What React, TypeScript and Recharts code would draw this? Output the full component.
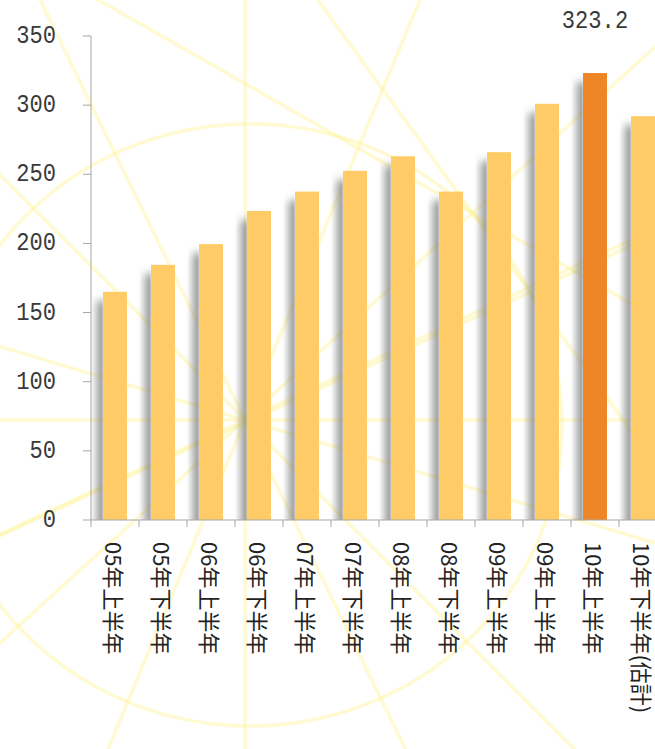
import { BarChart, Bar, XAxis, YAxis, LabelList } from 'recharts';

// half-year sales
const categories = [
  '05年上半年', '05年下半年', '06年上半年', '06年下半年',
  '07年上半年', '07年下半年', '08年上半年', '08年下半年',
  '09年上半年', '09年上半年', '10年上半年', '10年下半年(估計)',
];
const values = [165, 184.5, 199.5, 223.5, 237.5, 252.5, 263, 237.5, 266, 301, 323.2, 292];
const yTicks = [0, 50, 100, 150, 200, 250, 300, 350];
const HIGHLIGHT = 10;

const data = categories.map((name, i) => ({ name, value: values[i] }));

const CHART_W = 667;
const CHART_H = 749;
const PLOT_LEFT = 91;
const PLOT_TOP = 36;
const PLOT_BOTTOM = 520;
const BAND = (CHART_W - PLOT_LEFT) / categories.length;

const YELLOW = '#FECB67';
const ORANGE = '#EE8527';
const AXIS = '#a6a6a6';
const DECOR = '#FFF59A';

// background sunburst decoration
const bursts = [
  { cx: 245, cy: 420, angles: [0, 90, 64, 112.6, 45, 16.7, -25, -42.3] },
  { cx: 530, cy: 292, angles: [-24.7, 54] },
  { cx: 330, cy: 132, angles: [29.7] },
];

const Decorations = () => (
  <svg width={655} height={749} style={{ position: 'absolute', left: 0, top: 0 }}>
    {bursts.map((b, bi) =>
      b.angles.map((a, ai) => {
        const r = (a * Math.PI) / 180;
        const dx = Math.cos(r) * 1200;
        const dy = Math.sin(r) * 1200;
        return (
          <line
            key={`${bi}-${ai}`}
            x1={b.cx - dx}
            y1={b.cy - dy}
            x2={b.cx + dx}
            y2={b.cy + dy}
            stroke={DECOR}
            strokeOpacity={0.45}
            strokeWidth={3.5}
          />
        );
      })
    )}
    <ellipse
      cx={250}
      cy={425}
      rx={312}
      ry={301}
      fill="none"
      stroke={DECOR}
      strokeOpacity={0.45}
      strokeWidth={3.5}
    />
  </svg>
);

const ShadowBar = (props: any) => {
  const { x, y, width, height, index } = props;
  if (!height || height <= 0) return null;
  const id = `sb-${index}`;
  const fill = index === HIGHLIGHT ? ORANGE : YELLOW;
  return (
    <g>
      <defs>
        <linearGradient id={`${id}-g`} x1="0" x2="1" y1="0" y2="0">
          <stop offset="0" stopColor="#7a7a7a" stopOpacity={0} />
          <stop offset="1" stopColor="#7a7a7a" stopOpacity={0.8} />
        </linearGradient>
        <filter id={`${id}-f`} x="-60%" y="-10%" width="220%" height="120%">
          <feGaussianBlur stdDeviation="1.2 4" />
        </filter>
        <clipPath id={`${id}-c`}>
          <rect x={x - 20} y={y - 20} width={width + 20} height={height + 20} />
        </clipPath>
      </defs>
      <g clipPath={`url(#${id}-c)`}>
        <rect
          x={x - 12}
          y={y + 9}
          width={12}
          height={height}
          fill={`url(#${id}-g)`}
          filter={`url(#${id}-f)`}
        />
      </g>
      <rect x={x} y={y} width={width} height={height} fill={fill} />
    </g>
  );
};

const YTick = ({ x, y, payload }: any) => (
  <text
    x={0}
    y={0}
    transform={`translate(${x},${y}) scale(0.85,1)`}
    textAnchor="end"
    dominantBaseline="central"
    fontFamily="Liberation Mono, DejaVu Sans Mono, monospace"
    fontSize={26}
    fill="#3a3a3a"
  >
    {payload.value}
  </text>
);

const XTick = ({ x, y, payload }: any) => {
  const left = x - BAND / 2;
  return (
    <g>
      <line x1={left} x2={left} y1={PLOT_BOTTOM} y2={PLOT_BOTTOM + 7} stroke={AXIS} />
      <text
        transform={`translate(${x},${y}) rotate(90)`}
        textAnchor="start"
        dominantBaseline="central"
        fontFamily="Noto Sans CJK JP"
        fontSize={22}
        fill="#222"
      >
        {payload.value}
      </text>
    </g>
  );
};

const PeakLabel = (props: any) => {
  const { x, y, width, value, index } = props;
  if (index !== HIGHLIGHT) return null;
  return (
    <text
      x={0}
      y={0}
      transform={`translate(${x + width / 2},${y - 52}) scale(0.85,1)`}
      textAnchor="middle"
      dominantBaseline="central"
      fontFamily="Liberation Mono, DejaVu Sans Mono, monospace"
      fontSize={26}
      fill="#3a3a3a"
    >
      {value}
    </text>
  );
};

const App = () => {
  return (
    <div style={{ position: 'relative', width: 655, height: 749, overflow: 'hidden', background: '#fff' }}>
      <style>{'body{margin:0}'}</style>
      <Decorations />
      <div style={{ position: 'absolute', left: 0, top: 0 }}>
        <BarChart
          width={CHART_W}
          height={CHART_H}
          data={data}
          margin={{ top: PLOT_TOP, right: 0, left: 0, bottom: 0 }}
          barSize={24}
        >
          <XAxis
            dataKey="name"
            height={CHART_H - PLOT_BOTTOM}
            interval={0}
            tickLine={false}
            tickSize={0}
            tickMargin={22}
            axisLine={{ stroke: AXIS }}
            tick={<XTick />}
          />
          <YAxis
            width={PLOT_LEFT}
            domain={[0, 350]}
            ticks={yTicks}
            tickSize={8}
            tickMargin={27}
            tickLine={{ stroke: AXIS }}
            axisLine={{ stroke: AXIS }}
            tick={<YTick />}
          />
          <Bar dataKey="value" isAnimationActive={false} shape={<ShadowBar />}>
            <LabelList dataKey="value" content={<PeakLabel />} />
          </Bar>
        </BarChart>
      </div>
    </div>
  );
};

export default App;
